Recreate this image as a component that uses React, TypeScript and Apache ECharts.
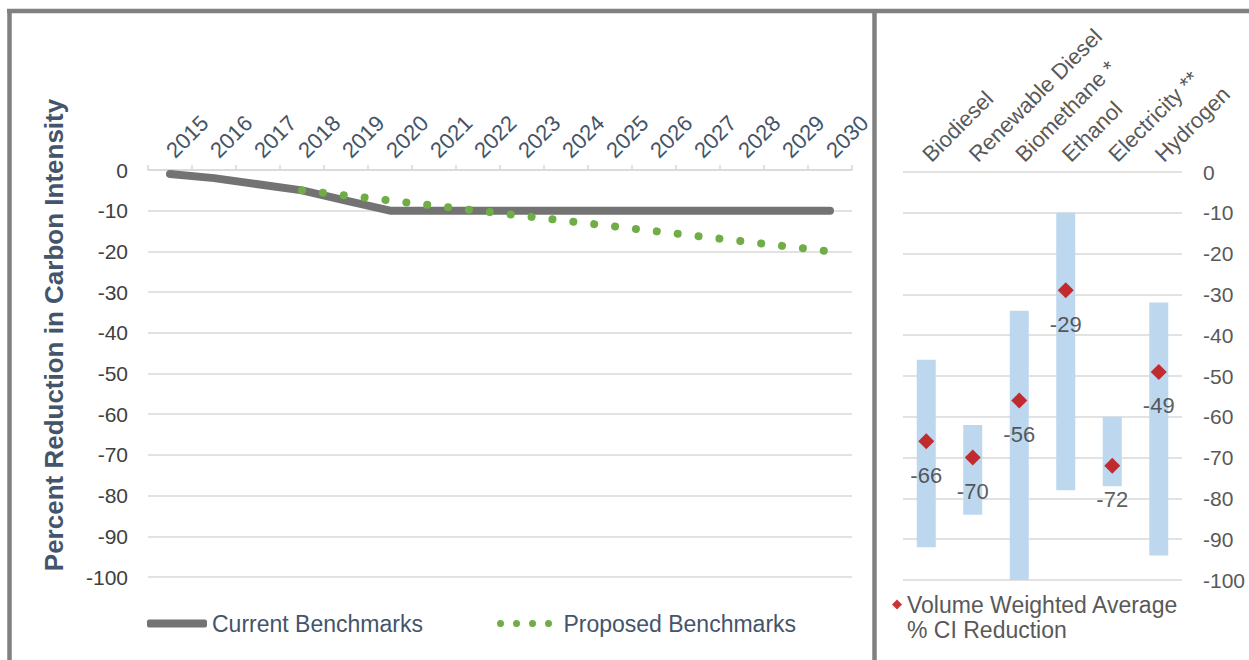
import React, { useEffect, useRef } from 'react';
import * as echarts from 'echarts';

const years = ['2015', '2016', '2017', '2018', '2019', '2020', '2021', '2022', '2023', '2024', '2025', '2026', '2027', '2028', '2029', '2030'];
const currentBenchmarks = [-1, -2, -3.5, -5, -7.5, -10, -10, -10, -10, -10, -10, -10, -10, -10, -10, -10];
const proposedBenchmarks = [null, null, null, -5, -6.25, -7.5, -8.75, -10, -11.25, -12.5, -13.75, -15, -16.25, -17.5, -18.75, -20];

const fuels = ['Biodiesel', 'Renewable Diesel', 'Biomethane *', 'Ethanol', 'Electricity **', 'Hydrogen'];
const rangeTop = [-46, -62, -34, -10, -60, -32];
const rangeBottom = [-92, -84, -100, -78, -77, -94];
const weightedAverage = [-66, -70, -56, -29, -72, -49];

const yTicks = { min: -100, max: 0, interval: 10 };

const FONT = '"Liberation Sans", Arial, sans-serif';

const dotsIcon =
  'path://M0,3.5a3.5,3.5 0 1,0 7,0a3.5,3.5 0 1,0 -7,0z' +
  'M16,3.5a3.5,3.5 0 1,0 7,0a3.5,3.5 0 1,0 -7,0z' +
  'M32,3.5a3.5,3.5 0 1,0 7,0a3.5,3.5 0 1,0 -7,0z' +
  'M48,3.5a3.5,3.5 0 1,0 7,0a3.5,3.5 0 1,0 -7,0z';

export default function App() {
  const ref = useRef<HTMLDivElement>(null);

  useEffect(() => {
    document.body.style.margin = '0';
    if (!ref.current) return;
    const chart = echarts.init(ref.current, undefined, { renderer: 'svg' });
    const border = '#808080';
    const option: any = {
      animation: false,
      backgroundColor: '#ffffff',
      textStyle: { fontFamily: FONT },
      grid: [
        { left: 148, top: 170, width: 704, height: 407 },
        { left: 903, top: 172, width: 279, height: 408 },
      ],
      xAxis: [
        {
          gridIndex: 0,
          type: 'category',
          data: years,
          position: 'top',
          boundaryGap: true,
          axisLine: { show: true, lineStyle: { color: '#d9d9d9', width: 1.5 } },
          axisTick: { show: true, length: 5, lineStyle: { color: '#d9d9d9', width: 1.5 } },
          axisLabel: { rotate: 45, interval: 0, color: '#44546a', fontSize: 22, margin: 16, fontFamily: FONT },
        },
        {
          gridIndex: 1,
          type: 'category',
          data: fuels,
          position: 'top',
          axisLine: { show: false },
          axisTick: { show: false },
          axisLabel: { rotate: 45, interval: 0, color: '#595959', fontSize: 22, margin: 14, fontFamily: FONT },
        },
      ],
      yAxis: [
        {
          gridIndex: 0,
          type: 'value',
          ...yTicks,
          axisLine: { show: false },
          axisTick: { show: false },
          splitLine: { lineStyle: { color: '#d9d9d9', width: 1.5 } },
          axisLabel: { color: '#404040', fontSize: 21, margin: 20, fontFamily: FONT },
        },
        {
          gridIndex: 1,
          type: 'value',
          position: 'right',
          ...yTicks,
          axisLine: { show: false },
          axisTick: { show: false },
          splitLine: { lineStyle: { color: '#d9d9d9', width: 1.5 } },
          axisLabel: { color: '#595959', fontSize: 21, margin: 21, fontFamily: FONT },
        },
      ],
      legend: [
        {
          left: 147,
          top: 612,
          padding: 0,
          itemWidth: 60,
          itemHeight: 8,
          selectedMode: false,
          data: [{ name: 'Current Benchmarks', icon: 'roundRect' }],
          textStyle: { color: '#44546a', fontSize: 23, fontFamily: FONT },
        },
        {
          left: 497,
          top: 612,
          padding: 0,
          itemWidth: 55,
          itemHeight: 7,
          selectedMode: false,
          data: [{ name: 'Proposed Benchmarks', icon: dotsIcon }],
          formatter: (name: string) => ' ' + name,
          textStyle: { color: '#44546a', fontSize: 23, fontFamily: FONT },
        },
        {
          left: 892,
          top: 567,
          padding: 0,
          itemWidth: 10,
          itemHeight: 10,
          selectedMode: false,
          data: [{ name: 'Volume Weighted Average % CI Reduction', icon: 'diamond' }],
          formatter: () => '\nVolume Weighted Average\n% CI Reduction',
          textStyle: { color: '#595959', fontSize: 23, lineHeight: 25, fontFamily: FONT },
        },
      ],
      graphic: [
        { type: 'line', shape: { x1: 7, y1: 11, x2: 1249, y2: 11 }, style: { stroke: border, lineWidth: 4.5 }, silent: true },
        { type: 'line', shape: { x1: 9.5, y1: 9, x2: 9.5, y2: 660 }, style: { stroke: border, lineWidth: 4.5 }, silent: true },
        { type: 'line', shape: { x1: 874.5, y1: 9, x2: 874.5, y2: 660 }, style: { stroke: border, lineWidth: 4.5 }, silent: true },
        {
          type: 'text',
          x: 54,
          y: 335,
          rotation: Math.PI / 2,
          silent: true,
          style: {
            text: 'Percent Reduction in Carbon Intensity',
            fill: '#44546a',
            fontSize: 26,
            fontWeight: 'bold',
            fontFamily: FONT,
            align: 'center',
            verticalAlign: 'middle',
          },
        },
      ],
      series: [
        {
          type: 'line',
          name: 'Current Benchmarks',
          xAxisIndex: 0,
          yAxisIndex: 0,
          data: currentBenchmarks,
          symbol: 'none',
          itemStyle: { color: '#737373' },
          lineStyle: { color: '#737373', width: 8, cap: 'round', join: 'round' },
          z: 2,
        },
        {
          type: 'line',
          name: 'Proposed Benchmarks',
          xAxisIndex: 0,
          yAxisIndex: 0,
          data: proposedBenchmarks,
          symbol: 'none',
          itemStyle: { color: '#70ad47' },
          lineStyle: { color: '#70ad47', width: 8, type: [0.01, 21], cap: 'round' },
          z: 3,
        },
        {
          type: 'bar',
          name: 'rangeBase',
          xAxisIndex: 1,
          yAxisIndex: 1,
          stack: 'range',
          barWidth: 19,
          silent: true,
          data: rangeTop,
          itemStyle: { color: 'rgba(0,0,0,0)' },
        },
        {
          type: 'bar',
          name: 'Range',
          xAxisIndex: 1,
          yAxisIndex: 1,
          stack: 'range',
          barWidth: 19,
          data: rangeTop.map((t, i) => rangeBottom[i] - t),
          itemStyle: { color: '#bdd7ee' },
        },
        {
          type: 'scatter',
          name: 'Volume Weighted Average % CI Reduction',
          xAxisIndex: 1,
          yAxisIndex: 1,
          data: weightedAverage,
          symbol: 'diamond',
          symbolSize: 16,
          itemStyle: { color: '#c00000' },
          label: { show: true, position: 'bottom', distance: 15, color: '#333333', fontSize: 22, fontFamily: FONT },
          z: 5,
        },
      ],
    };
    chart.setOption(option);
    return () => chart.dispose();
  }, []);

  return <div ref={ref} style={{ width: 1249, height: 660, overflow: 'hidden' }} />;
}
